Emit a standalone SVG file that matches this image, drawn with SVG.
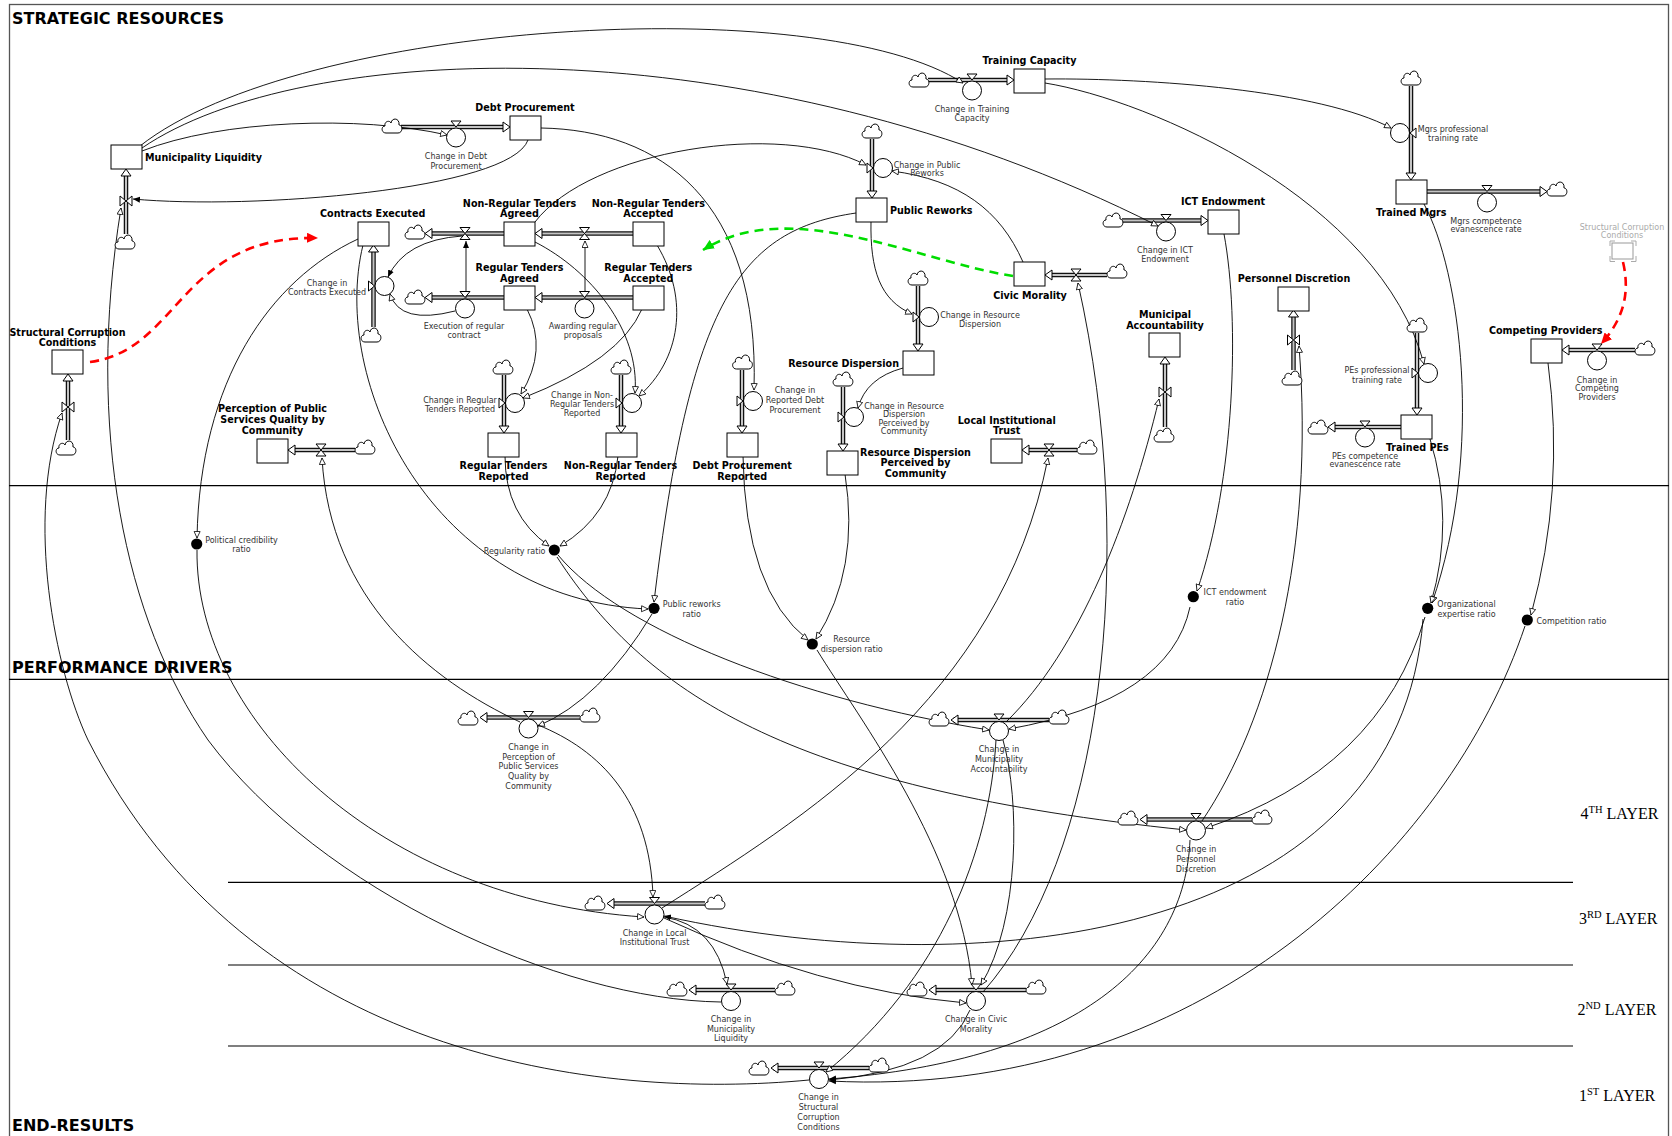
<svg xmlns="http://www.w3.org/2000/svg" width="1672" height="1136" viewBox="0 0 1672 1136">
<style>
.fr{fill:none;stroke:#555;stroke-width:1.3}
.ln{stroke:#000;stroke-width:1.2}
.po{fill:none;stroke:#111;stroke-width:4.5}
.pi{fill:none;stroke:#c4c4c4;stroke-width:2}
.st{fill:#fff;stroke:#000;stroke-width:1}
.ci{fill:#fff;stroke:#000;stroke-width:1}
.dot{fill:#000}
.c{fill:none;stroke:#000;stroke-width:0.9;marker-end:url(#ah)}
.cf{fill:none;stroke:#000;stroke-width:0.9;marker-end:url(#af)}
.t{font-family:'DejaVu Sans',Verdana,sans-serif;font-weight:bold;font-size:9.6px;fill:#000}
.r{font-family:'DejaVu Sans',Verdana,sans-serif;font-size:8px;fill:#333}
.m{text-anchor:middle}
.e{text-anchor:end}
.h{font-family:'DejaVu Sans',Verdana,sans-serif;font-weight:bold;font-size:16px;fill:#000}
.ly{font-family:'Liberation Serif','Times New Roman',serif;font-size:16px;fill:#000}
</style>
<defs>
<path id="cl" d="M-6,7 C-11,7 -11,0 -7,0 C-8,-5 -2,-6 -1,-3 C0,-9 8,-8 7,-1 C11,-1 11,7 6,7 Z" fill="#fff" stroke="#000" stroke-width="1"/>
<path id="hg" d="M-5,-6 L5,-6 L0,0 Z M-5,6 L5,6 L0,0 Z" fill="#fff" stroke="#000" stroke-width="1"/>
<path id="bt" d="M-6,-5 L-6,5 L0,0 Z M6,-5 L6,5 L0,0 Z" fill="#fff" stroke="#000" stroke-width="1"/>
<path id="tv" d="M-5,-6 L5,-6 L0,0 Z" fill="#fff" stroke="#000" stroke-width="1"/>
<path id="tr" d="M-6,-5 L-6,5 L0,0 Z" fill="#fff" stroke="#000" stroke-width="1"/>
<path id="tl" d="M6,-5 L6,5 L0,0 Z" fill="#fff" stroke="#000" stroke-width="1"/>
<path id="pa" d="M0,0 L-7,-5 L-7,5 Z" fill="#fff" stroke="#000" stroke-width="1"/>
<marker id="ah" markerUnits="userSpaceOnUse" viewBox="0 0 9 8" markerWidth="9" markerHeight="8" refX="7" refY="3.5" orient="auto"><path d="M0.5,0.5 L7,3.5 L0.5,6.5 Z" fill="#fff" stroke="#000" stroke-width="0.8"/></marker>
<marker id="af" markerUnits="userSpaceOnUse" viewBox="0 0 9 8" markerWidth="9" markerHeight="8" refX="7" refY="3.5" orient="auto"><path d="M0,0.5 L7,3.5 L0,6.5 Z" fill="#000"/></marker>
<marker id="ar" markerUnits="userSpaceOnUse" viewBox="0 0 12 10" markerWidth="12" markerHeight="10" refX="11" refY="5" orient="auto"><path d="M0,0 L11,5 L0,10 Z" fill="#f00"/></marker>
<marker id="ag" markerUnits="userSpaceOnUse" viewBox="0 0 12 10" markerWidth="12" markerHeight="10" refX="11" refY="5" orient="auto"><path d="M0,0 L11,5 L0,10 Z" fill="#0d0"/></marker>
</defs>
<rect width="1672" height="1136" fill="#fff"/>

<g id="frame">
<rect class="fr" x="9.5" y="4.5" width="1659" height="1200"/>
<line class="ln" x1="9" y1="485.7" x2="1669" y2="485.7"/>
<line class="ln" x1="9" y1="679.3" x2="1669" y2="679.3"/>
<line class="ln" x1="228" y1="882.3" x2="1573" y2="882.3"/>
<line class="ln" x1="228" y1="965" x2="1573" y2="965"/>
<line class="ln" x1="228" y1="1046" x2="1573" y2="1046"/>
<text class="h" x="12" y="24">STRATEGIC RESOURCES</text>
<text class="h" x="12" y="673">PERFORMANCE DRIVERS</text>
<text class="h" x="12" y="1131">END-RESULTS</text>
<text class="ly" x="1580.5" y="819">4<tspan font-size="10.5" dy="-6">TH</tspan><tspan dy="6"> LAYER</tspan></text>
<text class="ly" x="1579" y="924">3<tspan font-size="10.5" dy="-6">RD</tspan><tspan dy="6"> LAYER</tspan></text>
<text class="ly" x="1577.5" y="1015">2<tspan font-size="10.5" dy="-6">ND</tspan><tspan dy="6"> LAYER</tspan></text>
<text class="ly" x="1579" y="1101">1<tspan font-size="10.5" dy="-6">ST</tspan><tspan dy="6"> LAYER</tspan></text>
</g>

<g id="pipes">
<path class="po" d="M126,234 V172 M401,127 H506 M928,80 H1010 M1122,220.5 H1204 M872,139 V194 M1107,275 H1049 M918,286 V347 M843,387 V447 M1077,450 H1026 M1165,427 V361 M1293.5,370 V314 M1411,86 V176 M1427,191.5 H1543 M1417,333 V411 M1401,427 H1332 M1635,350 H1566 M68,440 V378 M373.5,327 V249 M504,233.5 H429 M633,233.5 H539 M504,297.5 H429 M633,297.5 H539 M504,375 V429 M621,375 V429 M742,370 V429 M355,450 H292 M580,717.5 H482 M1049,720 H953 M1252,819.5 H1142 M705,903.5 H609 M775,990 H691 M1026,990 H931 M869,1068 H773"/>
<path class="pi" d="M126,234 V172 M401,127 H506 M928,80 H1010 M1122,220.5 H1204 M872,139 V194 M1107,275 H1049 M918,286 V347 M843,387 V447 M1077,450 H1026 M1165,427 V361 M1293.5,370 V314 M1411,86 V176 M1427,191.5 H1543 M1417,333 V411 M1401,427 H1332 M1635,350 H1566 M68,440 V378 M373.5,327 V249 M504,233.5 H429 M633,233.5 H539 M504,297.5 H429 M633,297.5 H539 M504,375 V429 M621,375 V429 M742,370 V429 M355,450 H292 M580,717.5 H482 M1049,720 H953 M1252,819.5 H1142 M705,903.5 H609 M775,990 H691 M1026,990 H931 M869,1068 H773"/>
</g>

<g id="connectors">
<path class="c" d="M140,146 C300,20 820,-10 963,83"/>
<path class="c" d="M142,148 C300,40 750,20 1158,226"/>
<path class="c" d="M142,151 C220,120 360,115 447,135"/>
<path class="cf" d="M528,140 C510,190 250,210 133,199"/>
<path class="c" d="M541,128 C660,130 760,200 754,390"/>
<path class="c" d="M535,222 C590,150 780,120 866,165"/>
<path class="c" d="M1023,262 C1000,210 960,180 892,171"/>
<path class="c" d="M871,221 C870,270 880,300 912,314"/>
<path class="c" d="M856,213 C740,230 690,300 654,602"/>
<path class="c" d="M903,368 Q866,378 858,408"/>
<path class="c" d="M1045,79 C1150,78 1320,90 1391,128"/>
<path class="c" d="M1045,83 C1150,100 1380,200 1424,364"/>
<path class="c" d="M1224,234 C1240,320 1235,480 1197,591"/>
<path class="c" d="M1424,204 C1460,270 1485,450 1432,603"/>
<path class="c" d="M1430,439 Q1455,520 1431,603"/>
<path class="c" d="M1548,363 Q1565,490 1531,615"/>
<path class="c" d="M358,239 C270,280 200,380 197,538"/>
<path class="c" d="M363,245 C330,380 430,600 648,609"/>
<path class="cf" d="M466,298 L466,241"/>
<path class="c" d="M585,298 L585,241"/>
<path class="cf" d="M462,236 Q405,240 388,277"/>
<path class="c" d="M455,311 Q400,325 390,294"/>
<path class="c" d="M527,309 Q548,350 521,394"/>
<path class="c" d="M642,309 Q620,360 523,398"/>
<path class="c" d="M535,242 C590,270 640,330 635,393"/>
<path class="c" d="M657,245 C690,300 680,360 639,396"/>
<path class="c" d="M505,456 Q505,515 549,546"/>
<path class="c" d="M618,456 Q612,515 560,546"/>
<path class="c" d="M743,456 Q745,590 808,640"/>
<path class="c" d="M845,474 Q860,570 816,639"/>
<path class="c" d="M558,555 C620,630 800,700 989,730"/>
<path class="c" d="M557,557 C650,700 800,790 1186,830"/>
<path class="c" d="M652,614 Q600,700 538,726"/>
<path class="c" d="M817,650 C860,720 960,850 972,985"/>
<path class="c" d="M1190,607 Q1170,700 1009,729"/>
<path class="c" d="M1425,617 Q1380,770 1206,828"/>
<path class="cf" d="M1423,619 C1400,930 1000,990 664,916"/>
<path class="cf" d="M1525,626 C1450,850 1200,1100 829,1081"/>
<path class="c" d="M1202,821 C1270,720 1315,550 1299,346"/>
<path class="cf" d="M1190,840 C1185,960 1080,1060 829,1079"/>
<path class="c" d="M1006,722 C1080,650 1130,520 1159,399"/>
<path class="c" d="M1003,740 C1020,800 1020,920 981,985"/>
<path class="c" d="M996,740 C990,850 940,980 826,1072"/>
<path class="c" d="M983,992 C1100,860 1140,560 1078,283"/>
<path class="cf" d="M970,1010 Q945,1070 829,1080"/>
<path class="c" d="M662,908 C800,820 1000,700 1048,458"/>
<path class="c" d="M664,917 Q715,925 727,984"/>
<path class="c" d="M664,918 Q820,990 966,1003"/>
<path class="c" d="M538,725 C600,750 650,800 653,897"/>
<path class="c" d="M520,722 C430,680 330,600 322,458"/>
<path class="c" d="M197,550 C195,720 380,900 644,917"/>
<path class="c" d="M721,1002 C560,1000 320,890 208,740 C125,620 85,430 121,208"/>
<path class="c" d="M809,1080 C600,1100 250,1060 88,740 C55,670 25,520 62,413"/>
<path d="M90,362 C180,350 180,235 318,238" fill="none" stroke="#f00" stroke-width="2.6" stroke-dasharray="9,6" marker-end="url(#ar)"/>
<path d="M1623,262 C1632,300 1618,325 1601,344" fill="none" stroke="#f00" stroke-width="2.6" stroke-dasharray="9,6" marker-end="url(#ar)"/>
<path d="M1013,276 C920,262 790,195 703,250" fill="none" stroke="#0d0" stroke-width="2.6" stroke-dasharray="9,6" marker-end="url(#ag)"/>
</g>

<!-- flows: clouds, valves, arrowheads -->
<g id="flow-municipality-liquidity"><use href="#cl" x="125" y="242"/><use href="#bt" x="126" y="201"/><use href="#pa" transform="translate(126,169) rotate(-90)"/></g>
<g id="flow-debt-procurement"><use href="#cl" x="392" y="126"/><use href="#tv" x="456" y="127"/><use href="#pa" transform="translate(510,127)"/><circle class="ci" cx="456" cy="137.5" r="9.5"/><text class="r m"><tspan x="456" y="159">Change in Debt</tspan><tspan x="456" y="169">Procurement</tspan></text></g>
<g id="flow-training-capacity"><use href="#cl" x="919" y="80"/><use href="#tv" x="972" y="80"/><use href="#pa" transform="translate(1014,80)"/><circle class="ci" cx="972" cy="90.5" r="9.5"/><text class="r m"><tspan x="972" y="112">Change in Training</tspan><tspan x="972" y="120.5">Capacity</tspan></text></g>
<g id="flow-ict"><use href="#cl" x="1113" y="220"/><use href="#tv" x="1166" y="220.5"/><use href="#pa" transform="translate(1208,220.5)"/><circle class="ci" cx="1166" cy="231.5" r="9.5"/><text class="r m"><tspan x="1165" y="252.5">Change in ICT</tspan><tspan x="1165" y="261.5">Endowment</tspan></text></g>
<g id="flow-public-reworks"><use href="#cl" x="872" y="131"/><use href="#tr" x="873" y="168"/><use href="#pa" transform="translate(872,198) rotate(90)"/><circle class="ci" cx="883" cy="168" r="9.5"/><text class="r m"><tspan x="927" y="167.5">Change in Public</tspan><tspan x="927" y="176">Reworks</tspan></text></g>
<g id="flow-civic-morality"><use href="#cl" x="1117" y="271"/><use href="#hg" x="1076" y="275"/><use href="#pa" transform="translate(1045,275) rotate(180)"/></g>
<g id="flow-resource-dispersion"><use href="#cl" x="918" y="278"/><use href="#tr" x="919" y="317"/><use href="#pa" transform="translate(918,351) rotate(90)"/><circle class="ci" cx="929" cy="317" r="9.5"/><text class="r m"><tspan x="980" y="317.5">Change in Resource</tspan><tspan x="980" y="326.5">Dispersion</tspan></text></g>
<g id="flow-rd-perceived"><use href="#cl" x="843" y="379"/><use href="#tr" x="844" y="417"/><use href="#pa" transform="translate(843,451) rotate(90)"/><circle class="ci" cx="854" cy="417" r="9.5"/><text class="r m"><tspan x="904" y="408.5">Change in Resource</tspan><tspan x="904" y="417.3">Dispersion</tspan><tspan x="904" y="425.6">Perceived by</tspan><tspan x="904" y="434.4">Community</tspan></text></g>
<g id="flow-local-trust"><use href="#cl" x="1087" y="447"/><use href="#hg" x="1049" y="450"/><use href="#pa" transform="translate(1022,450) rotate(180)"/></g>
<g id="flow-accountability"><use href="#cl" x="1164" y="435"/><use href="#bt" x="1165" y="392"/><use href="#pa" transform="translate(1165,357) rotate(-90)"/></g>
<g id="flow-personnel"><use href="#cl" x="1292" y="378"/><use href="#bt" x="1293.5" y="340"/><use href="#pa" transform="translate(1293.5,310) rotate(-90)"/></g>
<g id="flow-mgrs-training"><use href="#cl" x="1411" y="78"/><use href="#tl" x="1410" y="133"/><use href="#pa" transform="translate(1411,180) rotate(90)"/><circle class="ci" cx="1400" cy="133" r="9.5"/><text class="r m"><tspan x="1453" y="131.5">Mgrs professional</tspan><tspan x="1453" y="141">training rate</tspan></text></g>
<g id="flow-mgrs-evanescence"><use href="#cl" x="1557" y="189"/><use href="#tv" x="1487" y="191.5"/><use href="#pa" transform="translate(1547,191.5)"/><circle class="ci" cx="1487" cy="202.5" r="9.5"/><text class="r m"><tspan x="1486" y="223.5">Mgrs competence</tspan><tspan x="1486" y="231.5">evanescence rate</tspan></text></g>
<g id="flow-pes-training"><use href="#cl" x="1417" y="325"/><use href="#tr" x="1418" y="373"/><use href="#pa" transform="translate(1417,415) rotate(90)"/><circle class="ci" cx="1428" cy="373" r="9.5"/><text class="r m"><tspan x="1377" y="372.5">PEs professional</tspan><tspan x="1377" y="382.5">training rate</tspan></text></g>
<g id="flow-pes-evanescence"><use href="#cl" x="1318" y="427"/><use href="#tv" x="1365" y="427"/><use href="#pa" transform="translate(1328,427) rotate(180)"/><circle class="ci" cx="1365" cy="437.5" r="9.5"/><text class="r m"><tspan x="1365" y="458.7">PEs competence</tspan><tspan x="1365" y="466.5">evanescence rate</tspan></text></g>
<g id="flow-competing"><use href="#cl" x="1645" y="348"/><use href="#tv" x="1597" y="350"/><use href="#pa" transform="translate(1562,350) rotate(180)"/><circle class="ci" cx="1597" cy="360.5" r="9.5"/><text class="r m"><tspan x="1597" y="382.5">Change in</tspan><tspan x="1597" y="391">Competing</tspan><tspan x="1597" y="399.5">Providers</tspan></text></g>
<g id="flow-structural"><use href="#cl" x="66" y="448"/><use href="#bt" x="68" y="407"/><use href="#pa" transform="translate(68,374) rotate(-90)"/></g>
<g id="flow-contracts"><use href="#cl" x="371" y="335"/><use href="#tr" x="374.5" y="286"/><use href="#pa" transform="translate(373.5,245) rotate(-90)"/><circle class="ci" cx="384.5" cy="286" r="9.5"/><text class="r m"><tspan x="327" y="285.7">Change in</tspan><tspan x="327" y="294.7">Contracts Executed</tspan></text></g>
<g id="flow-nr-execution"><use href="#cl" x="415" y="232"/><use href="#hg" x="465" y="233.5"/><use href="#pa" transform="translate(425,233.5) rotate(180)"/></g>
<g id="flow-nr-awarding"><use href="#hg" x="584.5" y="233.5"/><use href="#pa" transform="translate(535,233.5) rotate(180)"/></g>
<g id="flow-execution-regular"><use href="#cl" x="415" y="297"/><use href="#tv" x="465" y="297.5"/><use href="#pa" transform="translate(425,297.5) rotate(180)"/><circle class="ci" cx="465" cy="308.5" r="9.5"/><text class="r m"><tspan x="464" y="329">Execution of regular</tspan><tspan x="464" y="337.5">contract</tspan></text></g>
<g id="flow-awarding-regular"><use href="#tv" x="584.5" y="297.5"/><use href="#pa" transform="translate(535,297.5) rotate(180)"/><circle class="ci" cx="584.5" cy="308.5" r="9.5"/><text class="r m"><tspan x="583" y="329">Awarding regular</tspan><tspan x="583" y="337.5">proposals</tspan></text></g>
<g id="flow-rt-reported"><use href="#cl" x="503" y="367"/><use href="#tr" x="505" y="403"/><use href="#pa" transform="translate(504,433) rotate(90)"/><circle class="ci" cx="515" cy="403" r="9.5"/><text class="r m"><tspan x="460" y="402.5">Change in Regular</tspan><tspan x="460" y="411.5">Tenders Reported</tspan></text></g>
<g id="flow-nrt-reported"><use href="#cl" x="621" y="367"/><use href="#tr" x="622" y="403"/><use href="#pa" transform="translate(621,433) rotate(90)"/><circle class="ci" cx="632" cy="403" r="9.5"/><text class="r m"><tspan x="582" y="398">Change in Non-</tspan><tspan x="582" y="406.5">Regular Tenders</tspan><tspan x="582" y="415.5">Reported</tspan></text></g>
<g id="flow-debt-reported"><use href="#cl" x="742.5" y="362"/><use href="#tr" x="743" y="401"/><use href="#pa" transform="translate(742,433) rotate(90)"/><circle class="ci" cx="753" cy="401" r="9.5"/><text class="r m"><tspan x="795" y="393">Change in</tspan><tspan x="795" y="403">Reported Debt</tspan><tspan x="795" y="413">Procurement</tspan></text></g>
<g id="flow-perception"><use href="#cl" x="365" y="447"/><use href="#hg" x="321" y="450"/><use href="#pa" transform="translate(288,450) rotate(180)"/></g>

<g id="rate-change-perception"><use href="#cl" x="590" y="715"/><use href="#cl" x="468" y="718"/><use href="#tv" x="528.5" y="717.5"/><use href="#pa" transform="translate(480,717.5) rotate(180)"/><circle class="ci" cx="528.5" cy="728.5" r="9.5"/><text class="r m"><tspan x="528.5" y="749.7">Change in</tspan><tspan x="528.5" y="759.7">Perception of</tspan><tspan x="528.5" y="769">Public Services</tspan><tspan x="528.5" y="779">Quality by</tspan><tspan x="528.5" y="789">Community</tspan></text></g>
<g id="rate-change-accountability"><use href="#cl" x="1059" y="717"/><use href="#cl" x="939" y="719"/><use href="#tv" x="999" y="720"/><use href="#pa" transform="translate(951,720) rotate(180)"/><circle class="ci" cx="999" cy="731" r="9.5"/><text class="r m"><tspan x="999" y="752">Change in</tspan><tspan x="999" y="762">Municipality</tspan><tspan x="999" y="772">Accountability</tspan></text></g>
<g id="rate-change-personnel"><use href="#cl" x="1262" y="817"/><use href="#cl" x="1128" y="818"/><use href="#tv" x="1196" y="819.5"/><use href="#pa" transform="translate(1140,819.5) rotate(180)"/><circle class="ci" cx="1196" cy="830.5" r="9.5"/><text class="r m"><tspan x="1196" y="852">Change in</tspan><tspan x="1196" y="862">Personnel</tspan><tspan x="1196" y="872">Discretion</tspan></text></g>
<g id="rate-change-local-trust"><use href="#cl" x="715" y="902"/><use href="#cl" x="595" y="903"/><use href="#tv" x="654.5" y="903.5"/><use href="#pa" transform="translate(607,903.5) rotate(180)"/><circle class="ci" cx="654.5" cy="914.5" r="9.5"/><text class="r m"><tspan x="654.5" y="935.7">Change in Local</tspan><tspan x="654.5" y="944.7">Institutional Trust</tspan></text></g>
<g id="rate-change-liquidity"><use href="#cl" x="785" y="988"/><use href="#cl" x="677" y="989"/><use href="#tv" x="731" y="990"/><use href="#pa" transform="translate(689,990) rotate(180)"/><circle class="ci" cx="731" cy="1001" r="9.5"/><text class="r m"><tspan x="731" y="1022">Change in</tspan><tspan x="731" y="1032">Municipality</tspan><tspan x="731" y="1041">Liquidity</tspan></text></g>
<g id="rate-change-civic"><use href="#cl" x="1036" y="987"/><use href="#cl" x="917" y="989"/><use href="#tv" x="976" y="990"/><use href="#pa" transform="translate(929,990) rotate(180)"/><circle class="ci" cx="976" cy="1001" r="9.5"/><text class="r m"><tspan x="976" y="1022">Change in Civic</tspan><tspan x="976" y="1032">Morality</tspan></text></g>
<g id="rate-change-structural"><use href="#cl" x="879" y="1065"/><use href="#cl" x="759" y="1068"/><use href="#tv" x="819" y="1068"/><use href="#pa" transform="translate(771,1068) rotate(180)"/><circle class="ci" cx="819" cy="1079" r="9.5"/><text class="r m"><tspan x="818.5" y="1100.3">Change in</tspan><tspan x="818.5" y="1110.3">Structural</tspan><tspan x="818.5" y="1120.3">Corruption</tspan><tspan x="818.5" y="1130.3">Conditions</tspan></text></g>

<g id="ratio-political"><circle class="dot" cx="196.7" cy="544" r="5.6"/><text class="r m"><tspan x="241.5" y="543.3">Political credibility</tspan><tspan x="241.5" y="552">ratio</tspan></text></g>
<g id="ratio-regularity"><circle class="dot" cx="554.3" cy="550" r="5.6"/><text class="r e" x="545.5" y="554">Regularity ratio</text></g>
<g id="ratio-public-reworks"><circle class="dot" cx="654" cy="608.3" r="5.6"/><text class="r m"><tspan x="691.7" y="607.3">Public reworks</tspan><tspan x="691.7" y="617">ratio</tspan></text></g>
<g id="ratio-resource-dispersion"><circle class="dot" cx="812.3" cy="644" r="5.6"/><text class="r m"><tspan x="851.7" y="642.3">Resource</tspan><tspan x="851.7" y="652">dispersion ratio</tspan></text></g>
<g id="ratio-ict"><circle class="dot" cx="1193.3" cy="596.7" r="5.6"/><text class="r m"><tspan x="1235" y="594.7">ICT endowment</tspan><tspan x="1235" y="604.7">ratio</tspan></text></g>
<g id="ratio-org-expertise"><circle class="dot" cx="1427.7" cy="608.3" r="5.6"/><text class="r m"><tspan x="1466.5" y="607.3">Organizational</tspan><tspan x="1466.5" y="617">expertise ratio</tspan></text></g>
<g id="ratio-competition"><circle class="dot" cx="1527.3" cy="620" r="5.6"/><text class="r" x="1536.5" y="624">Competition ratio</text></g>

<g id="stock-municipality-liquidity"><rect class="st" x="111" y="145" width="31" height="24"/><text class="t" x="145" y="161">Municipality Liquidity</text></g>
<g id="stock-debt-procurement"><rect class="st" x="510" y="116" width="31" height="24"/><text class="t m" x="525" y="111">Debt Procurement</text></g>
<g id="stock-training-capacity"><rect class="st" x="1014" y="69" width="31" height="24"/><text class="t m" x="1029.5" y="63.5">Training Capacity</text></g>
<g id="stock-ict-endowment"><rect class="st" x="1208" y="210" width="31" height="24"/><text class="t m" x="1223" y="205">ICT Endowment</text></g>
<g id="stock-public-reworks"><rect class="st" x="856" y="198" width="31" height="24"/><text class="t" x="890" y="214">Public Reworks</text></g>
<g id="stock-civic-morality"><rect class="st" x="1014" y="262" width="31" height="24"/><text class="t m" x="1030" y="298.5">Civic Morality</text></g>
<g id="stock-resource-dispersion"><rect class="st" x="903" y="351" width="31" height="24"/><text class="t e" x="899" y="367">Resource Dispersion</text></g>
<g id="stock-rd-perceived"><rect class="st" x="827" y="451" width="31" height="24"/><text class="t m"><tspan x="915.5" y="455.5">Resource Dispersion</tspan><tspan x="915.5" y="466">Perceived by</tspan><tspan x="915.5" y="476.5">Community</tspan></text></g>
<g id="stock-local-trust"><rect class="st" x="991" y="439" width="31" height="24"/><text class="t m"><tspan x="1006.7" y="423.5">Local Institutional</tspan><tspan x="1006.7" y="434">Trust</tspan></text></g>
<g id="stock-accountability"><rect class="st" x="1149" y="333" width="31" height="24"/><text class="t m"><tspan x="1165" y="318">Municipal</tspan><tspan x="1165" y="328.5">Accountability</tspan></text></g>
<g id="stock-personnel-discretion"><rect class="st" x="1278" y="287" width="31" height="24"/><text class="t m" x="1294" y="282">Personnel Discretion</text></g>
<g id="stock-trained-mgrs"><rect class="st" x="1396" y="180" width="31" height="24"/><text class="t m" x="1411.3" y="215.7">Trained Mgrs</text></g>
<g id="stock-trained-pes"><rect class="st" x="1401" y="415" width="31" height="24"/><text class="t m" x="1417.3" y="450.7">Trained PEs</text></g>
<g id="stock-competing-providers"><rect class="st" x="1531" y="339" width="31" height="24"/><text class="t m" x="1545.7" y="334">Competing Providers</text></g>
<g id="shadow-structural"><text class="r m" fill="#aaa" style="fill:#aaa"><tspan x="1622" y="230.3">Structural Corruption</tspan><tspan x="1622" y="238.3">Conditions</tspan></text><rect x="1612" y="243" width="21" height="16" fill="#fff" stroke="#999"/><path d="M1610,246 V241 H1615 M1631,241 H1636 V246 M1636,256 V261.5 H1631 M1615,261.5 H1610 V256" fill="none" stroke="#aaa"/></g>
<g id="stock-structural"><rect class="st" x="52" y="350" width="31" height="24"/><text class="t m"><tspan x="67.5" y="335.5">Structural Corruption</tspan><tspan x="67.5" y="346">Conditions</tspan></text></g>
<g id="stock-contracts-executed"><rect class="st" x="358" y="222" width="31" height="24"/><text class="t" x="320" y="217">Contracts Executed</text></g>
<g id="stock-nr-agreed"><rect class="st" x="504" y="222" width="31" height="24"/><text class="t m"><tspan x="519.5" y="206.5">Non-Regular Tenders</tspan><tspan x="519.5" y="216.5">Agreed</tspan></text></g>
<g id="stock-nr-accepted"><rect class="st" x="633" y="222" width="31" height="24"/><text class="t m"><tspan x="648.3" y="206.5">Non-Regular Tenders</tspan><tspan x="648.3" y="216.5">Accepted</tspan></text></g>
<g id="stock-r-agreed"><rect class="st" x="504" y="286" width="31" height="24"/><text class="t m"><tspan x="519.5" y="271">Regular Tenders</tspan><tspan x="519.5" y="281.5">Agreed</tspan></text></g>
<g id="stock-r-accepted"><rect class="st" x="633" y="286" width="31" height="24"/><text class="t m"><tspan x="648.3" y="271">Regular Tenders</tspan><tspan x="648.3" y="281.5">Accepted</tspan></text></g>
<g id="stock-r-reported"><rect class="st" x="488" y="433" width="31" height="24"/><text class="t m"><tspan x="503.5" y="469">Regular Tenders</tspan><tspan x="503.5" y="479.5">Reported</tspan></text></g>
<g id="stock-nr-reported"><rect class="st" x="606" y="433" width="31" height="24"/><text class="t m"><tspan x="620.5" y="469">Non-Regular Tenders</tspan><tspan x="620.5" y="479.5">Reported</tspan></text></g>
<g id="stock-debt-reported"><rect class="st" x="727" y="433" width="31" height="24"/><text class="t m"><tspan x="742.2" y="469">Debt Procurement</tspan><tspan x="742.2" y="479.5">Reported</tspan></text></g>
<g id="stock-perception"><rect class="st" x="257" y="439" width="31" height="24"/><text class="t m"><tspan x="272.5" y="412">Perception of Public</tspan><tspan x="272.5" y="423">Services Quality by</tspan><tspan x="272.5" y="434">Community</tspan></text></g>
</svg>
